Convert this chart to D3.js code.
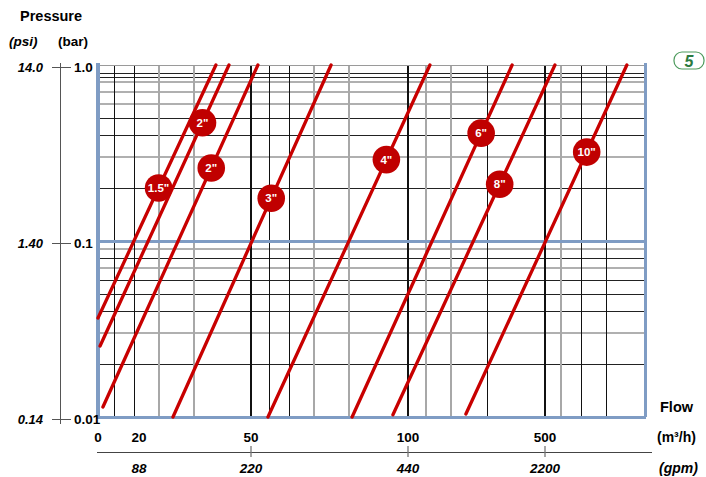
<!DOCTYPE html>
<html>
<head>
<meta charset="utf-8">
<style>
  body { margin: 0; background: #fff; }
  text { font-family: "Liberation Sans", Arial, sans-serif; font-weight: bold; }
</style>
</head>
<body>
<svg id="chart" width="706" height="477"></svg>
<script src="https://cdnjs.cloudflare.com/ajax/libs/d3/7.8.5/d3.min.js"></script>
<script>

// flow axis (m3/h) -- the scale of the original is hand drawn, so piecewise
var flowTicks = [0, 20, 50, 100, 500];
var flowEnd = 792;
var gpmAt = [20, 50, 100, 500];
var gpmLabels = ["88", "220", "440", "2200"];
var gpmTicked = [false, true, true, true];

// pressure axis
var barTicks = [1.0, 0.1, 0.01];
var barLabels = ["1.0", "0.1", "0.01"];
var psiLabels = ["14.0", "1.40", "0.14"];

// grid lines (k = black, g = grey, K = heavy)
var gridFlow = [7.8, 17.6, 25.4, 34.7, 50, 55.7, 62.1, 70.1, 81.2, 100, 152.6, 225.5, 330.7, 500, 546.7, 605, 678];
var gridFlowStyle = ["k", "k", "g", "g", "K", "k", "k", "g", "g", "K", "g", "g", "k", "K", "g", "k", "k"];
var gridBar = [0.9, 0.85, 0.8, 0.7, 0.6, 0.5, 0.4, 0.3, 0.2, 0.09, 0.08, 0.07, 0.06, 0.05, 0.04, 0.03, 0.02];
var gridBarStyle = ["k", "k", "g", "g", "g", "k", "k", "g", "k", "g", "k", "g", "k", "k", "k", "g", "k"];

// pipe curves: two end points each (flow m3/h, pressure bar)
var sizes = ['1.5"', '2"', '2"', '3"', '4"', '6"', '8"', '10"'];
var flowLow = [0, 1, 2.4, 29.1, 55.4, 82.2, 95.2, 269];
var barLow = [0.0365, 0.0253, 0.0114, 0.01, 0.01, 0.01, 0.0103, 0.0104];
var flowHigh = [40.6, 44.1, 52.2, 75.5, 164, 404, 529, 739];
var barHigh = [1, 1, 1, 1, 1, 1, 1, 1];
var labelBar = [0.2, 0.47, 0.26, 0.175, 0.29, 0.41, 0.21, 0.32];

var svg = d3.select("#chart");

var x = d3.scaleLinear()
    .domain(flowTicks)
    .range([98, 139, 251, 408, 545]);

var y = d3.scaleLog()
    .domain([0.01, 1])
    .range([417, 65]);

var blue = "#7f9cc4";
var red = "#c80000";

// snap 1px lines onto the pixel grid
function px(v) { return Math.round(v) + 0.5; }

// grid
var grid = svg.append("g").attr("shape-rendering", "crispEdges");

grid.selectAll(".hl").data(gridBar).enter().append("line")
  .attr("x1", x(0)).attr("x2", x(flowEnd))
  .attr("y1", function(d, i) { return gridBarStyle[i] == "g" ? Math.round(y(d)) : px(y(d)); })
  .attr("y2", function(d, i) { return gridBarStyle[i] == "g" ? Math.round(y(d)) : px(y(d)); })
  .attr("stroke", function(d, i) { return gridBarStyle[i] == "g" ? "#b0b0b0" : "#222"; })
  .attr("stroke-width", function(d, i) { return gridBarStyle[i] == "g" ? 2 : 1; });

grid.selectAll(".vl").data(gridFlow).enter().append("line")
  .attr("y1", y(1)).attr("y2", y(0.01))
  .attr("x1", function(d, i) { return gridFlowStyle[i] == "k" ? px(x(d)) : Math.round(x(d)); })
  .attr("x2", function(d, i) { return gridFlowStyle[i] == "k" ? px(x(d)) : Math.round(x(d)); })
  .attr("stroke", function(d, i) { return gridFlowStyle[i] == "g" ? "#a8a8a8" : "#111"; })
  .attr("stroke-width", function(d, i) { return gridFlowStyle[i] == "k" ? 1 : 2; });

// top edge
grid.append("line")
  .attr("x1", x(0)).attr("x2", x(flowEnd))
  .attr("y1", px(y(1))).attr("y2", px(y(1)))
  .attr("stroke", "#9a9a9a").attr("stroke-width", 1);

// blue frame and 0.1 line
grid.append("line")
  .attr("x1", x(0)).attr("x2", x(flowEnd))
  .attr("y1", px(y(0.1))).attr("y2", px(y(0.1)))
  .attr("stroke", blue).attr("stroke-width", 3);
grid.append("line")
  .attr("x1", x(0) - 2).attr("x2", x(flowEnd) + 1)
  .attr("y1", px(y(0.01))).attr("y2", px(y(0.01)))
  .attr("stroke", blue).attr("stroke-width", 3);
grid.append("line")
  .attr("x1", x(0)).attr("x2", x(0))
  .attr("y1", y(1) - 2).attr("y2", y(0.01))
  .attr("stroke", blue).attr("stroke-width", 4);
grid.append("line")
  .attr("x1", x(flowEnd)).attr("x2", x(flowEnd))
  .attr("y1", y(1) - 2).attr("y2", y(0.01))
  .attr("stroke", blue).attr("stroke-width", 3);

// pipe lines
var curves = svg.append("g");
curves.selectAll("line").data(sizes).enter().append("line")
  .attr("x1", function(d, i) { return x(flowLow[i]); })
  .attr("y1", function(d, i) { return y(barLow[i]); })
  .attr("x2", function(d, i) { return x(flowHigh[i]); })
  .attr("y2", function(d, i) { return y(barHigh[i]); })
  .attr("stroke", red)
  .attr("stroke-width", 3.3)
  .attr("stroke-linecap", "round");

function labelPos(i) {
  var y0 = y(barLow[i]), y1 = y(barHigh[i]);
  var t = (y(labelBar[i]) - y0) / (y1 - y0);
  return [x(flowLow[i]) + t * (x(flowHigh[i]) - x(flowLow[i])), y(labelBar[i])];
}

var badges = curves.selectAll(".badge").data(sizes).enter().append("g")
  .attr("transform", function(d, i) { return "translate(" + labelPos(i) + ")"; });
badges.append("circle")
  .attr("r", 13.8)
  .attr("fill", "#c00000");
badges.append("text")
  .attr("text-anchor", "middle")
  .attr("dy", "0.36em")
  .attr("fill", "#fff")
  .style("font-size", "11.5px")
  .text(function(d) { return d; });

// left axis
var left = svg.append("g").attr("shape-rendering", "crispEdges");
left.append("line")
  .attr("x1", 60.5).attr("x2", 60.5)
  .attr("y1", y(1) - 2).attr("y2", y(0.01) + 7)
  .attr("stroke", "#555").attr("stroke-width", 1);
left.selectAll(".tk").data(barTicks).enter().append("line")
  .attr("x1", 52).attr("x2", 71)
  .attr("y1", function(d) { return px(y(d) + 2); })
  .attr("y2", function(d) { return px(y(d) + 2); })
  .attr("stroke", "#555").attr("stroke-width", 1);
left.selectAll(".bl").data(barTicks).enter().append("text")
  .attr("x", 74)
  .attr("y", function(d) { return y(d) + 2; })
  .attr("dy", "0.36em")
  .style("font-size", "13.5px")
  .text(function(d, i) { return barLabels[i]; });
left.selectAll(".pl").data(barTicks).enter().append("text")
  .attr("x", 43)
  .attr("y", function(d) { return y(d) + 2; })
  .attr("dy", "0.36em")
  .attr("text-anchor", "end")
  .style("font-size", "13px")
  .style("font-style", "italic")
  .text(function(d, i) { return psiLabels[i]; });

svg.append("text").attr("x", 20).attr("y", 21)
  .style("font-size", "14.5px").text("Pressure");
svg.append("text").attr("x", 9).attr("y", 46)
  .style("font-size", "13.5px").style("font-style", "italic").text("(psi)");
svg.append("text").attr("x", 58).attr("y", 46)
  .style("font-size", "13.5px").text("(bar)");

// bottom axes
var bottom = svg.append("g");
bottom.selectAll(".fl").data(flowTicks).enter().append("text")
  .attr("x", function(d) { return x(d); })
  .attr("y", 442)
  .attr("text-anchor", "middle")
  .style("font-size", "13.5px")
  .text(function(d) { return d; });

bottom.append("line")
  .attr("x1", 97).attr("x2", 652)
  .attr("y1", 452.5).attr("y2", 452.5)
  .attr("stroke", "#444").attr("stroke-width", 1);
bottom.selectAll(".gt").data(gpmAt.filter(function(d, i) { return gpmTicked[i]; })).enter().append("line")
  .attr("x1", function(d) { return x(d); })
  .attr("x2", function(d) { return x(d); })
  .attr("y1", 446).attr("y2", 457)
  .attr("stroke", "#777").attr("stroke-width", 1.3);
bottom.selectAll(".gl").data(gpmAt).enter().append("text")
  .attr("x", function(d) { return x(d); })
  .attr("y", 473)
  .attr("text-anchor", "middle")
  .style("font-size", "13.5px")
  .style("font-style", "italic")
  .text(function(d, i) { return gpmLabels[i]; });

svg.append("text").attr("x", 660).attr("y", 412)
  .style("font-size", "14.5px").text("Flow");
svg.append("text").attr("x", 657).attr("y", 442)
  .style("font-size", "14px").text("(m\u00b3/h)");
svg.append("text").attr("x", 659).attr("y", 473)
  .style("font-size", "14px").style("font-style", "italic").text("(gpm)");

// page badge
svg.append("rect")
  .attr("x", 674).attr("y", 52).attr("width", 30).attr("height", 17)
  .attr("rx", 8)
  .attr("fill", "#fff").attr("stroke", "#4c9a5c").attr("stroke-width", 1.2);
svg.append("text").attr("x", 689).attr("y", 66.5)
  .attr("text-anchor", "middle")
  .attr("fill", "#2b7a40")
  .style("font-size", "16px").style("font-style", "italic")
  .text("5");

</script>
</body>
</html>
